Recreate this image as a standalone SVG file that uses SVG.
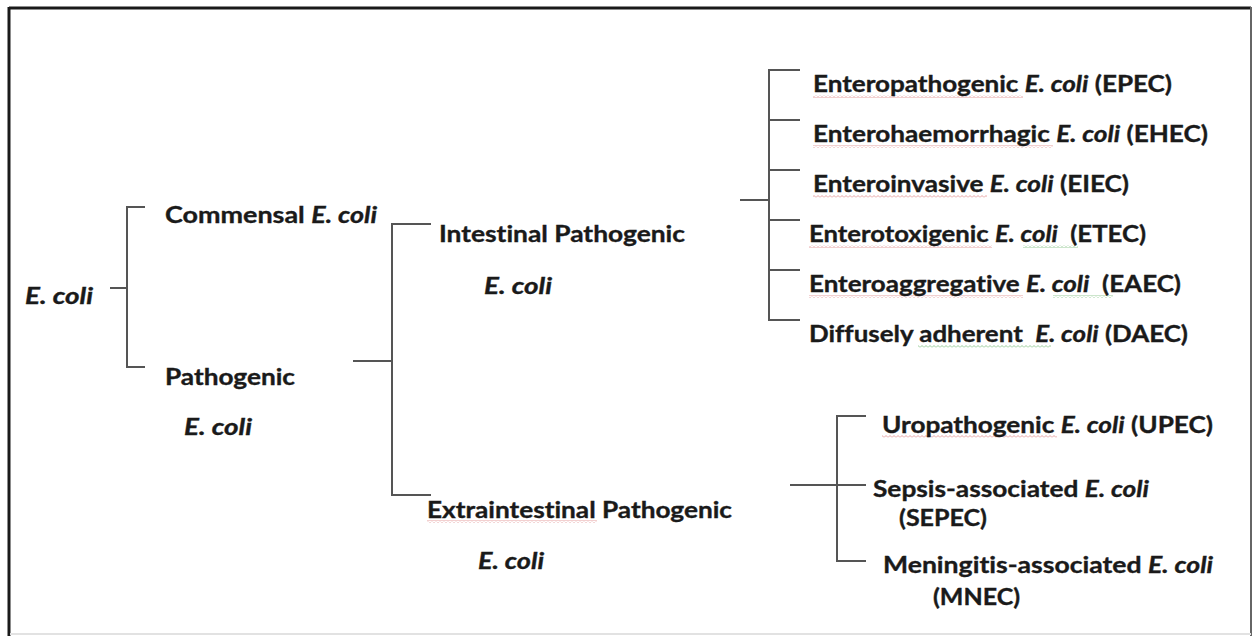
<svg xmlns="http://www.w3.org/2000/svg" width="1255" height="636" viewBox="0 0 1255 636">
<style>
  .t { font-family: Lato, "Open Sans", "Liberation Sans", sans-serif; font-weight: bold; font-size: 22.5px; fill: #1a1a1a; stroke: #1a1a1a; stroke-width: 0.35; white-space: pre; font-variant-ligatures: none; font-feature-settings: "liga" 0, "dlig" 0; }
  .i { font-style: italic; }
  .c { stroke: #555; stroke-width: 2; fill: none; }
</style>
<defs>
  <pattern id="wr" width="4" height="3" patternUnits="userSpaceOnUse">
    <path d="M0 2.5 L2 0.5 L4 2.5" stroke="#e08a8a" stroke-width="0.8" fill="none"/>
  </pattern>
  <pattern id="wg" width="4" height="3" patternUnits="userSpaceOnUse">
    <path d="M0 2.5 L2 0.5 L4 2.5" stroke="#7fbf7f" stroke-width="0.8" fill="none"/>
  </pattern>
</defs>
<rect x="0" y="0" width="1255" height="636" fill="#ffffff"/>
<g id="frame">
  <line x1="9" y1="8" x2="1251" y2="8" stroke="#1a1a1a" stroke-width="3"/>
  <line x1="9" y1="7" x2="9" y2="636" stroke="#1a1a1a" stroke-width="3"/>
  <line x1="1251" y1="7" x2="1251" y2="636" stroke="#666" stroke-width="2"/>
  <line x1="10" y1="634" x2="1251" y2="634" stroke="#e2e2e2" stroke-width="2"/>
</g>
<g id="connectors">
  <path class="c" d="M110 288 H127 M145 207 H127 V367 H145"/>
  <path class="c" d="M353 361 H392 M431 224 H392 V495 H431"/>
  <path class="c" d="M740 200 H769 M800 70 H769 V320 H800 M769 120 H800 M769 170 H800 M769 220 H800 M769 270 H800"/>
  <path class="c" d="M790 485 H866 M866 416 H837 V561 H866"/>
</g>
<g id="spell">
  <rect x="813" y="95" width="210" height="3" fill="url(#wr)"/>
  <rect x="813" y="145" width="240" height="3" fill="url(#wr)"/>
  <rect x="813" y="195" width="174" height="3" fill="url(#wr)"/>
  <rect x="809" y="245" width="183" height="3" fill="url(#wr)"/>
  <rect x="1023" y="245" width="55" height="3" fill="url(#wg)"/>
  <rect x="809" y="295" width="214" height="3" fill="url(#wr)"/>
  <rect x="1053" y="295" width="60" height="3" fill="url(#wg)"/>
  <rect x="918" y="345" width="133" height="3" fill="url(#wg)"/>
  <rect x="882" y="435" width="175" height="3" fill="url(#wr)"/>
  <rect x="427" y="520" width="170" height="3" fill="url(#wr)"/>
</g>
<g id="n-ecoli"><text class="t i" x="25" y="304" textLength="68" lengthAdjust="spacingAndGlyphs">E. coli</text></g>
<g id="n-commensal"><text class="t" x="165" y="223" textLength="212" lengthAdjust="spacingAndGlyphs">Commensal <tspan class="i">E. coli</tspan></text></g>
<g id="n-pathogenic">
  <text class="t" x="165" y="385" textLength="130" lengthAdjust="spacingAndGlyphs">Pathogenic</text>
  <text class="t i" x="184" y="435" textLength="68" lengthAdjust="spacingAndGlyphs">E. coli</text>
</g>
<g id="n-intestinal">
  <text class="t" x="439" y="242" textLength="246" lengthAdjust="spacingAndGlyphs">Intestinal Pathogenic</text>
  <text class="t i" x="484" y="294" textLength="68" lengthAdjust="spacingAndGlyphs">E. coli</text>
</g>
<g id="n-extraintestinal">
  <text class="t" x="427" y="518" textLength="305" lengthAdjust="spacingAndGlyphs">Extraintestinal Pathogenic</text>
  <text class="t i" x="478" y="569" textLength="66" lengthAdjust="spacingAndGlyphs">E. coli</text>
</g>
<g id="n-epec"><text class="t" x="813" y="92" textLength="359" lengthAdjust="spacingAndGlyphs">Enteropathogenic <tspan class="i">E. coli</tspan> (EPEC)</text></g>
<g id="n-ehec"><text class="t" x="813" y="142" textLength="395" lengthAdjust="spacingAndGlyphs">Enterohaemorrhagic <tspan class="i">E. coli</tspan> (EHEC)</text></g>
<g id="n-eiec"><text class="t" x="813" y="192" textLength="316" lengthAdjust="spacingAndGlyphs">Enteroinvasive <tspan class="i">E. coli</tspan> (EIEC)</text></g>
<g id="n-etec"><text class="t" x="809" y="242" textLength="337" lengthAdjust="spacingAndGlyphs">Enterotoxigenic <tspan class="i">E. coli</tspan>  (ETEC)</text></g>
<g id="n-eaec"><text class="t" x="809" y="292" textLength="372" lengthAdjust="spacingAndGlyphs">Enteroaggregative <tspan class="i">E. coli</tspan>  (EAEC)</text></g>
<g id="n-daec"><text class="t" x="809" y="342" textLength="379" lengthAdjust="spacingAndGlyphs">Diffusely adherent  <tspan class="i">E. coli</tspan> (DAEC)</text></g>
<g id="n-upec"><text class="t" x="882" y="433" textLength="331" lengthAdjust="spacingAndGlyphs">Uropathogenic <tspan class="i">E. coli</tspan> (UPEC)</text></g>
<g id="n-sepec">
  <text class="t" x="873" y="497" textLength="276" lengthAdjust="spacingAndGlyphs">Sepsis-associated <tspan class="i">E. coli</tspan></text>
  <text class="t" x="899" y="526" textLength="88" lengthAdjust="spacingAndGlyphs">(SEPEC)</text>
</g>
<g id="n-mnec">
  <text class="t" x="883" y="573" textLength="330" lengthAdjust="spacingAndGlyphs">Meningitis-associated <tspan class="i">E. coli</tspan></text>
  <text class="t" x="933" y="605" textLength="87" lengthAdjust="spacingAndGlyphs">(MNEC)</text>
</g>
</svg>
